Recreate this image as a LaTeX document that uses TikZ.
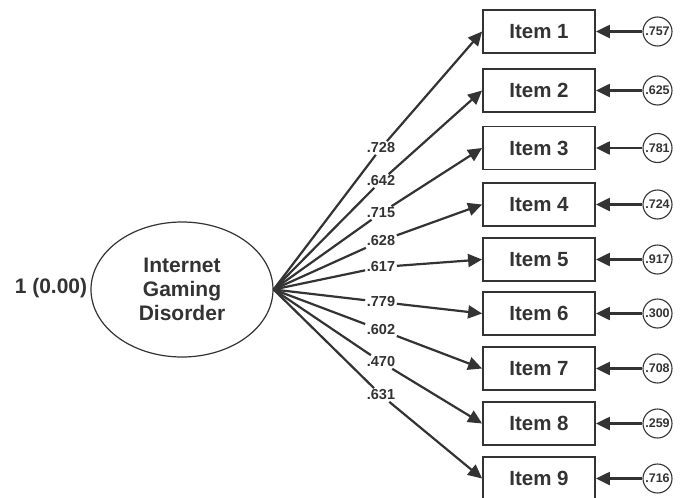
\documentclass[tikz,border=0pt]{standalone}
\usepackage{fontspec}
\setmainfont{Liberation Sans}
\usetikzlibrary{arrows.meta, shapes.geometric}
\definecolor{ink}{gray}{.2}
\tikzset{>={Triangle[length=14pt, width=13pt]}}
\tikzset{
    item/.style={draw=ink, line width=1.8pt, minimum width=112pt, minimum height=43pt, text=ink, font=\bfseries\fontsize{20.5}{24}\selectfont},
    err/.style={circle, draw=ink, line width=1.1pt, minimum size=29pt, inner sep=0pt, text=ink, font=\bfseries\fontsize{12.5}{14}\selectfont},
    load/.style={fill=white, inner sep=1.5pt, text=ink, font=\bfseries\fontsize{14.5}{16}\selectfont},
    path/.style={ink, line width=2.2pt, ->}
}

\begin{document}
\begin{tikzpicture}[x=1pt, y=-1pt]
    \useasboundingbox (0, 0) rectangle (683, 498);
    \node[ellipse, draw=ink, line width=1.2pt, minimum width=182pt, minimum height=135pt, align=center, text=ink, font=\bfseries\fontsize{21}{24}\selectfont](igd)at(182, 289.5){Internet\\Gaming\\Disorder};
    \node[text=ink, font=\bfseries\fontsize{21}{24}\selectfont](var)at(51, 288){1 (0.00)};
    \foreach \i/\y/\l/\ly/\e in {1/31.5/.728/148/.757, 2/90.5/.642/181/.625, 3/148/.715/213/.781, 4/204.5/.628/241/.724, 5/259.5/.617/267/.917, 6/313.5/.779/302/.300, 7/368.5/.602/330/.708, 8/423.5/.470/362/.259, 9/478.5/.631/395/.716}{
        \node[item](it\i)at(539, \y){Item \i};
        \node[err](e\i)at(657.5, \y){\e};
        \node[load](l\i)at(381, \ly){\l};
        \draw[path](igd.east)--(l\i)--(it\i.west);
        \draw[path](e\i)--(it\i);
    }
\end{tikzpicture}
\end{document}
